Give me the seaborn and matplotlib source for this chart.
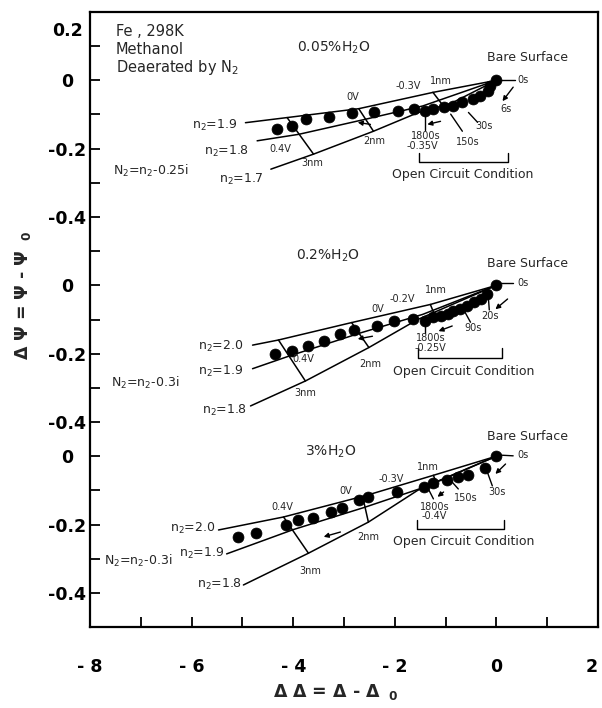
import matplotlib
matplotlib.use("Agg")
import matplotlib.pyplot as plt
import pandas as pd
import seaborn as sns

# measured points (ΔΔ, ΔΨ), one pair of lists per water content
dd_005 = [-4.31, -4.03, -3.75, -3.29, -2.85, -2.40, -1.93, -1.63, -1.40, -1.24,
          -1.04, -0.85, -0.67, -0.47, -0.32, -0.17, -0.12, 0.0]
dp_005 = [-0.143, -0.134, -0.114, -0.106, -0.095, -0.092, -0.090, -0.085, -0.090, -0.085,
          -0.079, -0.075, -0.064, -0.056, -0.046, -0.031, -0.017, 0.0]

dd_02 = [-4.35, -4.02, -3.70, -3.40, -3.07, -2.81, -2.35, -2.02, -1.65, -1.40,
         -1.24, -1.10, -0.96, -0.85, -0.71, -0.57, -0.45, -0.31, -0.18, 0.0]
dp_02 = [-0.202, -0.192, -0.179, -0.163, -0.143, -0.131, -0.119, -0.104, -0.099, -0.105,
         -0.094, -0.091, -0.085, -0.076, -0.070, -0.061, -0.050, -0.041, -0.026, 0.0]

dd_3 = [-5.08, -4.74, -4.15, -3.91, -3.62, -3.26, -3.03, -2.71, -2.52, -1.95,
        -1.43, -1.24, -0.97, -0.75, -0.55, -0.22, 0.0]
dp_3 = [-0.237, -0.225, -0.202, -0.187, -0.181, -0.164, -0.152, -0.129, -0.120, -0.105,
        -0.091, -0.079, -0.070, -0.061, -0.056, -0.035, 0.0]

# calculated n2 trajectories
n2_005 = ['1.9', '1.8', '1.7']
cx_005 = [[-4.94, -4.12, -2.71, -1.24, 0.0],
          [-4.71, -3.89, -2.58, -1.45, 0.0],
          [-4.44, -3.60, -2.42, -1.55, -0.90, 0.0]]
cy_005 = [[-0.124, -0.109, -0.083, -0.035, 0.0],
          [-0.177, -0.158, -0.114, -0.075, 0.0],
          [-0.260, -0.216, -0.149, -0.095, -0.068, 0.0]]

n2_02 = ['2.0', '1.9', '1.8']
cx_02 = [[-4.80, -4.29, -2.85, -1.30, 0.0],
         [-4.80, -4.10, -2.67, -1.45, 0.0],
         [-4.84, -3.76, -2.51, -1.55, 0.0]]
cy_02 = [[-0.175, -0.160, -0.109, -0.056, 0.0],
         [-0.244, -0.208, -0.139, -0.085, 0.0],
         [-0.353, -0.280, -0.182, -0.100, 0.0]]

n2_3 = ['2.0', '1.9', '1.8']
cx_3 = [[-5.47, -4.19, -2.54, -1.24, 0.0],
        [-5.31, -4.00, -2.60, -1.50, 0.0],
        [-4.98, -3.70, -2.52, -1.55, 0.0]]
cy_3 = [[-0.216, -0.178, -0.114, -0.056, 0.0],
        [-0.286, -0.215, -0.150, -0.095, 0.0],
        [-0.377, -0.284, -0.193, -0.100, 0.0]]

# equal film thickness lines 3nm, 2nm, 1nm
tx_005 = [[-4.12, -3.60], [-2.71, -2.42], [-1.25, -1.02]]
ty_005 = [[-0.109, -0.216], [-0.083, -0.149], [-0.035, -0.080]]
tx_02 = [[-4.29, -3.76], [-2.85, -2.51], [-1.30, -1.18]]
ty_02 = [[-0.160, -0.280], [-0.109, -0.182], [-0.056, -0.100]]
tx_3 = [[-4.19, -3.70], [-2.63, -2.52], [-1.24, -1.15]]
ty_3 = [[-0.178, -0.284], [-0.120, -0.193], [-0.056, -0.090]]

# the three panels share one y axis, shifted down
offsets = [0.0, -0.6, -1.1]

panels = [(dd_005, dp_005, n2_005, cx_005, cy_005, tx_005, ty_005),
          (dd_02, dp_02, n2_02, cx_02, cy_02, tx_02, ty_02),
          (dd_3, dp_3, n2_3, cx_3, cy_3, tx_3, ty_3)]

pts = []
lines = []
for k, (dd, dp, names, cx, cy, tx, ty) in enumerate(panels):
    off = offsets[k]
    for a, b in zip(dd, dp):
        pts.append({'x': a, 'y': b + off})
    for i, nm in enumerate(names):
        for a, b in zip(cx[i], cy[i]):
            lines.append({'id': f'p{k}_n{nm}', 'x': a, 'y': b + off})
    for i in range(len(tx)):
        for a, b in zip(tx[i], ty[i]):
            lines.append({'id': f'p{k}_t{i}', 'x': a, 'y': b + off})
df_pts = pd.DataFrame(pts)
df_lines = pd.DataFrame(lines)

sns.set_style("ticks")
plt.rcParams['font.family'] = ['DejaVu Sans']
plt.rcParams['mathtext.default'] = 'regular'

fig = plt.figure(figsize=(6.02, 7.08), dpi=100)
ax = fig.add_axes([90 / 602, 81 / 708, 508 / 602, 615 / 708])

sns.lineplot(data=df_lines, x='x', y='y', units='id', estimator=None, sort=False,
             color='black', lw=1.1, ax=ax)
sns.scatterplot(data=df_pts, x='x', y='y', s=62, color='black', edgecolor='black',
                linewidth=0.5, ax=ax, zorder=3)

# annotation text (x, y on the shared axis)
small = 7
texts = [
    ("Fe , 298K", -7.49, 0.143, 10.5, 'left'),
    ("Methanol", -7.49, 0.091, 10.5, 'left'),
    ("Deaerated by N$_2$", -7.49, 0.038, 10.5, 'left'),
    ("0.05%H$_2$O", -3.21, 0.096, 10, 'center'),
    ("Bare Surface", 0.61, 0.067, 9, 'center'),
    ("0s", 0.41, 0.0, small, 'left'),
    ("6s", 0.18, -0.085, small, 'center'),
    ("30s", -0.24, -0.134, small, 'center'),
    ("150s", -0.57, -0.181, small, 'center'),
    ("1800s", -1.40, -0.164, small, 'center'),
    ("-0.35V", -1.46, -0.193, small, 'center'),
    ("Open Circuit Condition", -0.67, -0.275, 9, 'center'),
    ("-0.3V", -1.73, -0.018, small, 'center'),
    ("1nm", -1.10, -0.003, small, 'center'),
    ("0V", -2.83, -0.050, small, 'center'),
    ("0.4V", -4.25, -0.202, small, 'center'),
    ("3nm", -3.62, -0.243, small, 'center'),
    ("2nm", -2.40, -0.178, small, 'center'),
    ("n$_2$=1.9", -5.09, -0.132, 9, 'right'),
    ("n$_2$=1.8", -4.86, -0.208, 9, 'right'),
    ("n$_2$=1.7", -4.58, -0.289, 9, 'right'),
    ("N$_2$=n$_2$-0.25i", -7.55, -0.266, 9, 'left'),

    ("0.2%H$_2$O", -3.32, -0.515, 10, 'center'),
    ("Bare Surface", 0.61, -0.535, 9, 'center'),
    ("0s", 0.41, -0.594, small, 'left'),
    ("20s", -0.12, -0.690, small, 'center'),
    ("90s", -0.45, -0.725, small, 'center'),
    ("1800s", -1.30, -0.754, small, 'center'),
    ("-0.25V", -1.30, -0.784, small, 'center'),
    ("Open Circuit Condition", -0.65, -0.851, 9, 'center'),
    ("-0.2V", -1.85, -0.640, small, 'center'),
    ("0V", -2.34, -0.670, small, 'center'),
    ("1nm", -1.20, -0.614, small, 'center'),
    ("0.4V", -3.80, -0.816, small, 'center'),
    ("2nm", -2.48, -0.830, small, 'center'),
    ("3nm", -3.76, -0.915, small, 'center'),
    ("n$_2$=2.0", -4.98, -0.778, 9, 'right'),
    ("n$_2$=1.9", -4.98, -0.851, 9, 'right'),
    ("n$_2$=1.8", -4.90, -0.965, 9, 'right'),
    ("N$_2$=n$_2$-0.3i", -7.59, -0.886, 9, 'left'),

    ("3%H$_2$O", -3.26, -1.088, 10, 'center'),
    ("Bare Surface", 0.61, -1.041, 9, 'center'),
    ("0s", 0.41, -1.097, small, 'left'),
    ("30s", 0.02, -1.205, small, 'center'),
    ("150s", -0.61, -1.222, small, 'center'),
    ("1800s", -1.22, -1.249, small, 'center'),
    ("-0.4V", -1.22, -1.275, small, 'center'),
    ("Open Circuit Condition", -0.65, -1.351, 9, 'center'),
    ("1nm", -1.34, -1.132, small, 'center'),
    ("-0.3V", -2.08, -1.167, small, 'center'),
    ("0V", -2.97, -1.202, small, 'center'),
    ("0.4V", -4.21, -1.249, small, 'center'),
    ("2nm", -2.52, -1.336, small, 'center'),
    ("3nm", -3.66, -1.436, small, 'center'),
    ("n$_2$=2.0", -5.53, -1.313, 9, 'right'),
    ("n$_2$=1.9", -5.35, -1.386, 9, 'right'),
    ("n$_2$=1.8", -5.00, -1.474, 9, 'right'),
    ("N$_2$=n$_2$-0.3i", -7.73, -1.406, 9, 'left'),
]
for t, x, y, fs, ha in texts:
    ax.text(x, y, t, fontsize=fs, ha=ha, va='center')

# label leaders and open-circuit brackets
leaders = [
    [(0.08, 0.0), (0.37, 0.0)],
    [(-0.55, -0.094), (-0.37, -0.123)],
    [(-0.90, -0.099), (-0.67, -0.149)],
    [(-1.40, -0.091), (-1.40, -0.145)],
    [(-1.53, -0.213), (-1.53, -0.240), (0.22, -0.240), (0.22, -0.213)],
    [(0.08, -0.594), (0.33, -0.594)],
    [(-0.16, -0.632), (-0.14, -0.672)],
    [(-0.65, -0.670), (-0.51, -0.708)],
    [(-1.40, -0.708), (-1.40, -0.740)],
    [(-1.55, -0.784), (-1.55, -0.813), (0.12, -0.813), (0.12, -0.784)],
    [(0.08, -1.097), (0.33, -1.099)],
    [(-0.18, -1.146), (-0.08, -1.187)],
    [(-0.96, -1.161), (-0.75, -1.196)],
    [(-1.34, -1.196), (-1.24, -1.225)],
    [(-1.57, -1.287), (-1.57, -1.313), (0.14, -1.313), (0.14, -1.287)],
]
for seg in leaders:
    ax.plot([p[0] for p in seg], [p[1] for p in seg], color='black', lw=1.0)

arrows = [
    ((0.33, -0.020), (0.12, -0.061)),
    ((-1.10, -0.120), (-1.36, -0.129)),
    ((-2.48, -0.129), (-2.73, -0.123)),
    ((0.22, -0.640), (-0.02, -0.670)),
    ((-0.87, -0.719), (-1.14, -0.734)),
    ((-2.44, -0.749), (-2.73, -0.757)),
    ((0.18, -1.123), (-0.02, -1.152)),
    ((-1.04, -1.205), (-1.16, -1.219)),
    ((-3.07, -1.322), (-3.40, -1.336)),
]
for start, end in arrows:
    ax.annotate('', xy=end, xytext=start,
                arrowprops=dict(arrowstyle='-|>', color='black', lw=1.0,
                                mutation_scale=7, shrinkA=0, shrinkB=0))

# axes
ax.set_xlim(-8, 2)
ax.set_ylim(-1.6, 0.2)
ax.set_xticks([-8, -7, -6, -5, -4, -3, -2, -1, 0, 1, 2])
ax.set_xticklabels(['- 8', '', '- 6', '', '- 4', '', '- 2', '', '0', '', '2'])
ytick_pos = [0.149, 0.0, -0.2, -0.4, -0.6, -0.8, -1.0, -1.1, -1.3, -1.5]
ytick_lab = ['0.2', '0', '-0.2', '-0.4', '0', '-0.2', '-0.4', '0', '-0.2', '-0.4']
ax.set_yticks(ytick_pos)
ax.set_yticklabels(ytick_lab)
ax.set_yticks([-1.6 + 0.1 * i for i in range(18)], minor=True)
ax.yaxis.get_major_ticks()[0].tick1line.set_visible(False)
for lab in ax.get_yticklabels():
    lab.set_horizontalalignment('center')
# keep the last x label inside the canvas
ax.get_xticklabels()[-1].set_horizontalalignment('right')

ax.tick_params(axis='both', which='both', direction='in', length=7, width=1.3,
               colors='black')
ax.tick_params(axis='y', which='major', pad=16.5, labelsize=12.5)
ax.tick_params(axis='x', which='major', pad=22, labelsize=12.5)
for lab in ax.get_xticklabels() + ax.get_yticklabels():
    lab.set_fontweight('bold')
for sp in ax.spines.values():
    sp.set_visible(True)
    sp.set_linewidth(1.6)
    sp.set_color('black')

ax.set_xlabel('Δ Δ = Δ - Δ $_{\\ 0}$', fontsize=12.5, fontweight='bold')
ax.set_ylabel('Δ Ψ = Ψ - Ψ $_{\\ 0}$', fontsize=12.5, fontweight='bold')
ax.xaxis.set_label_coords(0.485, -0.09)
ax.yaxis.set_label_coords(-0.112, 0.54)

fig.savefig('out.png', dpi=100)
